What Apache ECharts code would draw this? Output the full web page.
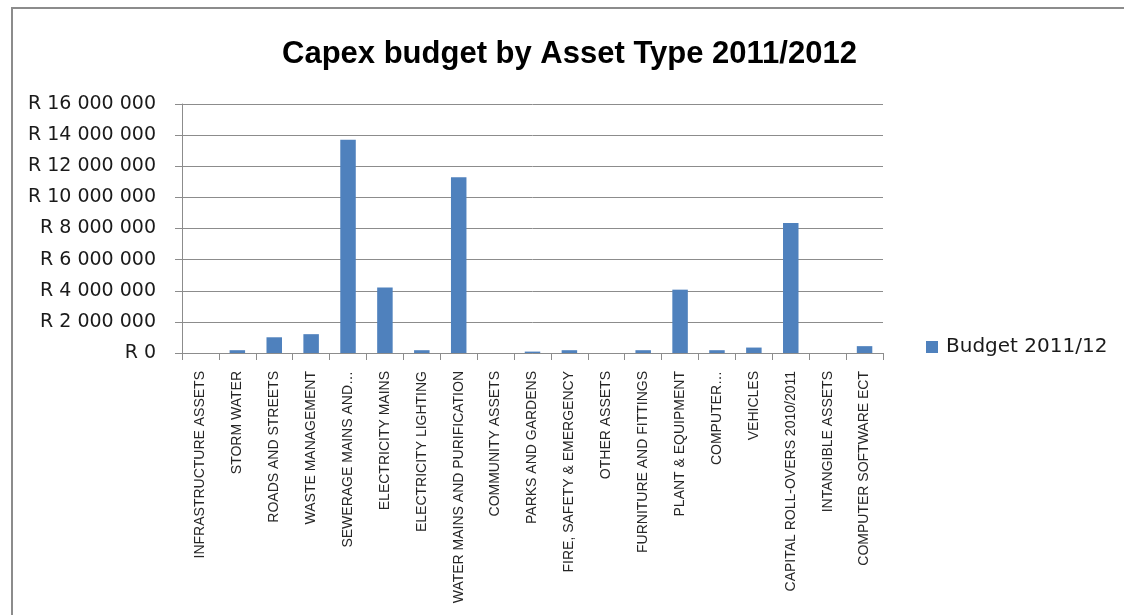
<!DOCTYPE html>
<html>
<head>
<meta charset="utf-8">
<title>Capex budget by Asset Type 2011/2012</title>
<script src="https://cdn.jsdelivr.net/npm/echarts@6/dist/echarts.min.js"></script>
<style>
  html, body { margin: 0; padding: 0; background: #ffffff; }
  #chart { width: 1124px; height: 615px; }
</style>
</head>
<body>
<div id="chart"></div>
<script>
// Asset type categories (as printed on the axis)
const categories = [
  'INFRASTRUCTURE ASSETS',
  'STORM WATER',
  'ROADS AND STREETS',
  'WASTE MANAGEMENT',
  'SEWERAGE MAINS AND…',
  'ELECTRICITY MAINS',
  'ELECTRICITY LIGHTING',
  'WATER MAINS AND PURIFICATION',
  'COMMUNITY ASSETS',
  'PARKS AND GARDENS',
  'FIRE, SAFETY & EMERGENCY',
  'OTHER ASSETS',
  'FURNITURE AND FITTINGS',
  'PLANT & EQUIPMENT',
  'COMPUTER…',
  'VEHICLES',
  'CAPITAL ROLL-OVERS 2010/2011',
  'INTANGIBLE ASSETS',
  'COMPUTER SOFTWARE ECT'
];

// Budget 2011/12 in Rand
const budget = [
  0,
  180000,
  1010000,
  1210000,
  13700000,
  4210000,
  180000,
  11300000,
  0,
  90000,
  180000,
  0,
  180000,
  4070000,
  180000,
  350000,
  8350000,
  0,
  440000
];

const seriesName = 'Budget 2011/12';
const chartTitle = 'Capex budget by Asset Type 2011/2012';

// Value axis range
const yMin = 0;
const yMax = 16000000;
const yStep = 2000000;

function formatRand(v) {
  const s = Math.round(v).toString().replace(/\B(?=(\d{3})+(?!\d))/g, ' ');
  return 'R ' + s;
}

const chart = echarts.init(document.getElementById('chart'), null, { renderer: 'canvas' });

chart.setOption({
  animation: false,
  backgroundColor: '#ffffff',
  graphic: [{
    type: 'rect',
    shape: { x: 12, y: 8, width: 1200, height: 700 },
    style: { fill: 'none', stroke: '#8c8c8c', lineWidth: 2 },
    silent: true,
    z: -1
  }],
  title: {
    text: chartTitle,
    left: 277,
    top: 34,
    textStyle: {
      fontFamily: '"Liberation Sans", sans-serif',
      fontWeight: 'bold',
      fontSize: 31,
      color: '#000000'
    }
  },
  legend: {
    data: [seriesName],
    left: 926,
    top: 337,
    padding: 0,
    orient: 'vertical',
    itemWidth: 12,
    itemHeight: 12,
    icon: 'rect',
    textStyle: {
      fontFamily: '"DejaVu Sans", sans-serif',
      fontSize: 20,
      color: '#1a1a1a',
      padding: [0, 0, 0, 3]
    }
  },
  grid: {
    left: 182,
    right: 241,
    top: 104,
    bottom: 262,
    containLabel: false
  },
  xAxis: {
    type: 'category',
    data: categories,
    boundaryGap: true,
    axisLine: { show: true, lineStyle: { color: '#8c8c8c', width: 1 } },
    axisTick: { show: true, length: 7, inside: false, alignWithLabel: false, lineStyle: { color: '#8c8c8c' } },
    axisLabel: {
      interval: 0,
      rotate: 90,
      margin: 18,
      fontFamily: '"Liberation Sans", sans-serif',
      fontSize: 14,
      color: '#262626'
    },
    splitLine: { show: false }
  },
  yAxis: {
    type: 'value',
    min: yMin,
    max: yMax,
    interval: yStep,
    axisLine: { show: true, lineStyle: { color: '#8c8c8c', width: 1 } },
    axisTick: { show: true, length: 7, inside: false, lineStyle: { color: '#8c8c8c' } },
    axisLabel: {
      margin: 26,
      formatter: formatRand,
      fontFamily: '"DejaVu Sans", sans-serif',
      fontSize: 19,
      color: '#1a1a1a'
    },
    splitLine: { show: true, lineStyle: { color: '#8c8c8c', width: 1 } }
  },
  series: [{
    name: seriesName,
    type: 'bar',
    data: budget,
    barWidth: '42%',
    itemStyle: { color: '#4f81bd' }
  }]
});
</script>
</body>
</html>
